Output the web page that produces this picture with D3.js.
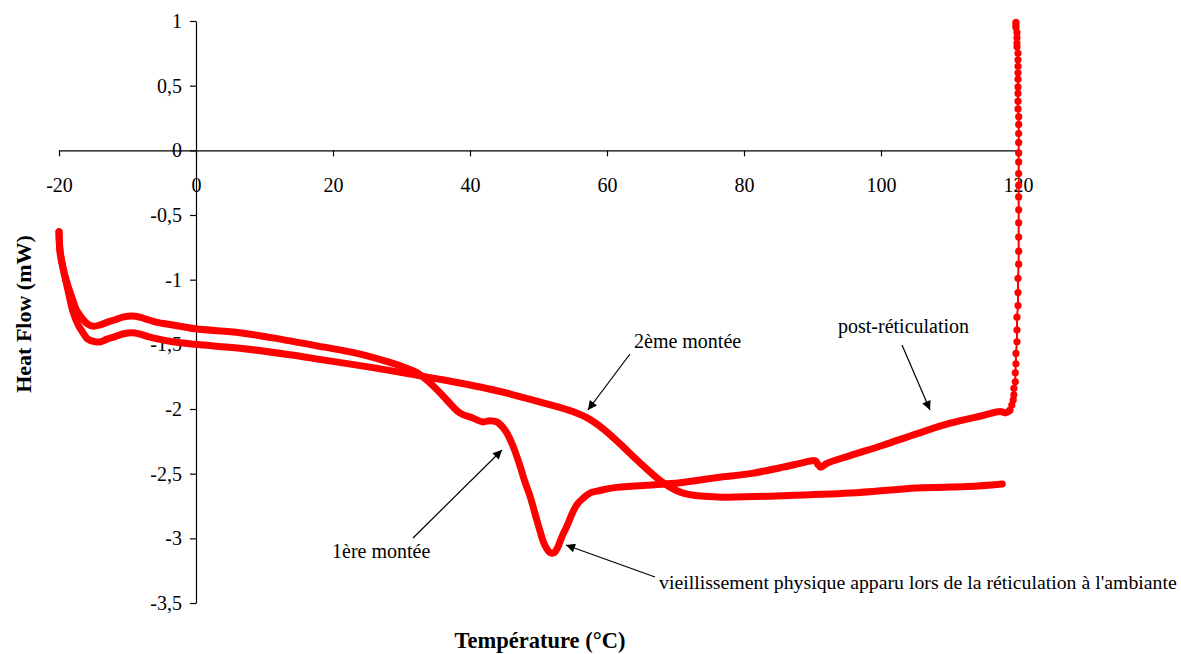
<!DOCTYPE html>
<html><head><meta charset="utf-8">
<script src="https://cdn.jsdelivr.net/npm/d3@7"></script>
<style>
html,body{margin:0;padding:0;background:#fff;}
svg{display:block;font-family:"Liberation Serif","Times New Roman",serif;}
</style></head>
<body>
<svg id="chart" width="1181" height="654"></svg>
<script>
// ---- data ----
const tempTicks = [-20, 0, 20, 40, 60, 80, 100, 120];
const flowTicks = [1, 0.5, 0, -0.5, -1, -1.5, -2, -2.5, -3, -3.5];

// 1ère montée (curing run, ends with post-réticulation)
const run1Temp = [-20.0,-19.85,-19.4,-18.8,-18.1,-17.4,-16.6,-15.9,-15.0,-14.0,-13.0,-11.8,-10.7,-9.3,-8.2,-7.0,-5.7,-3.4,-0.1,6.4,11.2,18.5,23.5,28.3,30.5,32.3,34.6,36.6,38.5,40.4,41.9,42.9,43.9,45.2,46.3,47.3,48.0,48.8,49.5,50.2,50.9,51.7,52.3,52.8,53.4,54.2,54.9,55.6,56.5,57.5,59.0,60.9,65.8,70.7,76.1,80.9,85.7,88.2,90.4,90.8,91.2,92.1,95.5,100.3,105.3,110.1,114.9,117.4,118.2,118.8];
const run1Flow = [-0.63,-0.77,-0.91,-1.03,-1.14,-1.24,-1.30,-1.34,-1.36,-1.35,-1.33,-1.31,-1.29,-1.28,-1.29,-1.31,-1.33,-1.35,-1.38,-1.41,-1.45,-1.52,-1.57,-1.64,-1.68,-1.72,-1.82,-1.93,-2.03,-2.07,-2.10,-2.09,-2.10,-2.17,-2.29,-2.44,-2.56,-2.68,-2.81,-2.94,-3.05,-3.11,-3.11,-3.07,-2.99,-2.90,-2.81,-2.74,-2.69,-2.65,-2.63,-2.61,-2.59,-2.57,-2.53,-2.50,-2.45,-2.42,-2.40,-2.43,-2.45,-2.42,-2.36,-2.28,-2.19,-2.11,-2.05,-2.02,-2.03,-2.01];

// isotherm at 120 °C (sparse markers)
const spikeTemp = [118.8,119.1,119.3,119.4,119.4,119.6,119.6,119.7,119.7,119.85,119.85,119.85,120.0,120.0,120.0,120.1,120.1,120.1,120.1,120.1,120.1,120.1,120.1,120.1,120.1,120.1,120.1,120.1,120.1,120.0,120.0,120.0,120.0,120.0,120.0,120.0,120.0,120.0,119.85,119.85,119.85,119.85,119.7,119.7,119.7];
const spikeFlow = [-2.01,-1.97,-1.93,-1.89,-1.84,-1.79,-1.72,-1.65,-1.57,-1.48,-1.39,-1.29,-1.20,-1.10,-0.99,-0.88,-0.78,-0.67,-0.56,-0.46,-0.36,-0.27,-0.18,-0.09,-0.02,0.06,0.13,0.20,0.26,0.32,0.38,0.44,0.49,0.55,0.60,0.65,0.70,0.75,0.80,0.83,0.87,0.91,0.95,0.97,0.99];

// 2ème montée
const run2Temp = [-20.0,-19.85,-19.3,-18.7,-18.0,-17.2,-16.5,-15.8,-14.7,-13.9,-13.0,-11.8,-10.7,-9.3,-8.2,-7.0,-6.3,-3.4,-0.1,6.4,13.7,18.5,25.8,32.3,36.6,41.5,46.3,51.2,55.0,57.5,59.6,61.9,65.3,68.2,71.1,76.1,85.7,95.5,105.3,112.6,117.7];
const run2Flow = [-0.63,-0.79,-0.94,-1.08,-1.24,-1.35,-1.41,-1.46,-1.48,-1.48,-1.46,-1.44,-1.42,-1.41,-1.42,-1.44,-1.45,-1.48,-1.50,-1.53,-1.58,-1.62,-1.68,-1.74,-1.78,-1.83,-1.89,-1.96,-2.02,-2.08,-2.16,-2.27,-2.44,-2.57,-2.65,-2.68,-2.67,-2.65,-2.61,-2.60,-2.58];

const annoText = ["2ème montée", "post-réticulation", "1ère montée",
  "vieillissement physique apparu lors de la réticulation à l'ambiante"];

// ---- chart ----
const svg = d3.select("#chart");
const x = d3.scaleLinear().domain([-20, 120]).range([59, 1018]);
const y = d3.scaleLinear().domain([-3.5, 1]).range([603, 21]);
const red = "#ff0000";
const fmt = v => String(v).replace(".", ",");

const defs = svg.append("defs");
defs.append("marker").attr("id", "ah").attr("viewBox", "0 0 10 10")
  .attr("refX", 10).attr("refY", 5).attr("markerWidth", 11).attr("markerHeight", 9)
  .attr("markerUnits", "userSpaceOnUse").attr("orient", "auto")
  .append("path").attr("d", "M0,0 L10,5 L0,10 z").attr("fill", "#000");

// axes
const xAxis = d3.axisBottom(x).tickValues(tempTicks).tickSize(6).tickSizeOuter(0)
  .tickPadding(21).tickFormat(fmt);
const gx = svg.append("g").attr("transform", `translate(0,${y(0)})`).call(xAxis);
const yAxis = d3.axisLeft(y).tickValues(flowTicks).tickSize(6).tickSizeOuter(0)
  .tickPadding(8).tickFormat(fmt);
const gy = svg.append("g").attr("transform", `translate(${x(0)},0)`).call(yAxis);
[gx, gy].forEach(g => {
  g.selectAll("text").attr("font-family", "Liberation Serif").attr("font-size", 20).attr("fill", "#000");
  g.selectAll("line,path").attr("stroke", "#000").attr("stroke-width", 1.2);
});

// curves
const line = d3.line().x(d => x(d[0])).y(d => y(d[1])).curve(d3.curveCatmullRom.alpha(0.5));
const run1 = run1Temp.map((t, i) => [t, run1Flow[i]]);
const run2 = run2Temp.map((t, i) => [t, run2Flow[i]]);
const spike = spikeTemp.map((t, i) => [t, spikeFlow[i]]);

[run2, run1].forEach(d => {
  svg.append("path").datum(d).attr("d", line).attr("fill", "none")
    .attr("stroke", red).attr("stroke-width", 7)
    .attr("stroke-linejoin", "round").attr("stroke-linecap", "round");
});
svg.append("path").datum(spike)
  .attr("d", d3.line().x(d => x(d[0])).y(d => y(d[1])))
  .attr("fill", "none").attr("stroke", red).attr("stroke-width", 2);
svg.append("g").selectAll("circle").data(spike).join("circle")
  .attr("cx", d => x(d[0])).attr("cy", d => y(d[1])).attr("r", 3.6).attr("fill", red);

// annotations
const annos = [
  {t: annoText[0], tx: 634, ty: 348, fs: 20, x1: 630, y1: 354, x2: 588, y2: 410},
  {t: annoText[1], tx: 838, ty: 333, fs: 20, x1: 902, y1: 345, x2: 930, y2: 410},
  {t: annoText[2], tx: 332, ty: 558, fs: 20, x1: 413, y1: 538, x2: 502, y2: 450},
  {t: annoText[3], tx: 659, ty: 589, fs: 19.8, x1: 655, y1: 577, x2: 566, y2: 545}
];
annos.forEach(a => {
  svg.append("line").attr("x1", a.x1).attr("y1", a.y1).attr("x2", a.x2).attr("y2", a.y2)
    .attr("stroke", "#000").attr("stroke-width", 1.2).attr("marker-end", "url(#ah)");
  svg.append("text").attr("x", a.tx).attr("y", a.ty).attr("font-size", a.fs)
    .attr("fill", "#000").text(a.t);
});

// axis titles
svg.append("text").attr("x", 540).attr("y", 648).attr("text-anchor", "middle")
  .attr("font-size", 22.5).attr("font-weight", "bold").text("Température (°C)");
svg.append("text").attr("transform", "translate(31,314) rotate(-90)").attr("text-anchor", "middle")
  .attr("font-size", 22).attr("font-weight", "bold").text("Heat Flow (mW)");
</script>
</body></html>
